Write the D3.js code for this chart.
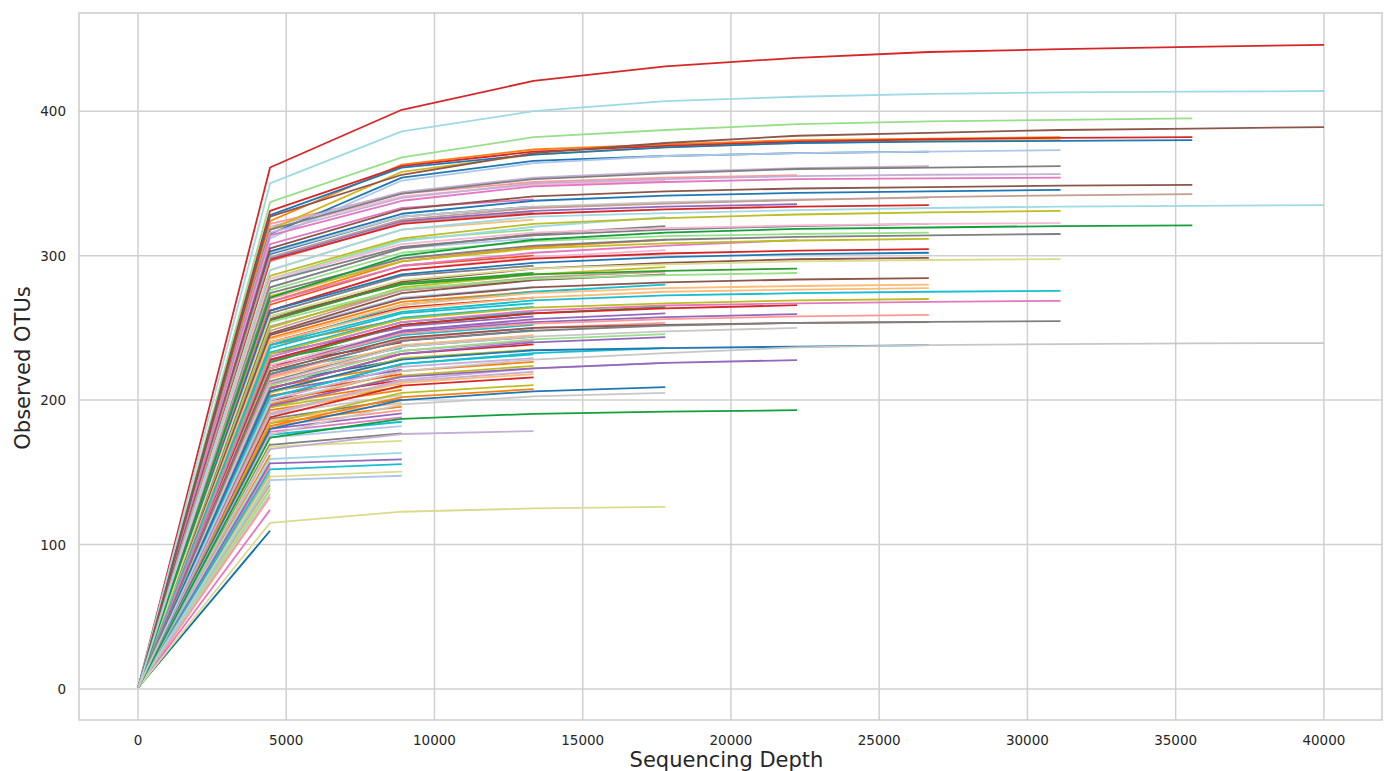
<!DOCTYPE html>
<html>
<head>
<meta charset="utf-8">
<script src="https://cdn.jsdelivr.net/npm/d3@7"></script>
<style>
  html, body { margin: 0; padding: 0; background: #ffffff; }
  svg { display: block; }
</style>
</head>
<body>
<svg id="chart" width="1386" height="771"></svg>
<script>
// Rarefaction depths (reads sampled per step)
const depths = [10, 4454, 8898, 13342, 17786, 22230, 26674, 31118, 35562, 40006];

// Observed OTUs per sample, grouped by the deepest depth each sample reaches
const samplesTo40006 = [
  [1, 361, 401, 421, 431, 437, 441, 443, 444.5, 446],
  [1, 350, 386, 400, 407, 410, 412, 413, 413.5, 414],
  [1, 327, 356, 371, 378, 383, 385, 387, 388, 389],
  [1, 290, 318, 327, 329.5, 331.5, 333, 334, 334.5, 335],
  [1, 198, 220, 228, 232.5, 236.5, 238, 238.8, 239.2, 239.5]
];
const samplesTo35562 = [
  [1, 337, 368, 382, 387, 391, 393, 394, 395],
  [1, 331, 362, 372, 376, 379, 380.5, 381.5, 382],
  [1, 328, 361, 370, 375, 378, 379, 379.5, 380],
  [1, 305, 332, 341, 344.5, 346.5, 347.5, 348.5, 349],
  [1, 299, 325, 333, 336, 338.5, 340.5, 341.8, 342.6],
  [1, 271, 300, 311, 316, 318.5, 319.5, 320.5, 321]
];
const samplesTo31118 = [
  [1, 324, 363, 373.5, 377, 380, 381, 382],
  [1, 318, 358, 370, 375, 378, 379.5, 380],
  [1, 312, 352, 364, 369, 371, 372, 373],
  [1, 318, 343, 353, 357, 360, 361, 362],
  [1, 316, 340, 350, 353, 355, 356, 356.5],
  [1, 314, 338, 348, 351, 353, 353.5, 354],
  [1, 303, 329, 338, 341.5, 343.5, 344.5, 345.5],
  [1, 286, 312, 322, 326, 328.5, 330, 331],
  [1, 284, 308, 316, 319, 321, 322, 322.5],
  [1, 274, 298, 307, 311, 313, 314, 315],
  [1, 258, 283, 291, 294, 296, 297, 297.6],
  [1, 238, 261, 269, 272.5, 274, 275, 275.6],
  [1, 230, 254, 262, 265.5, 267, 268, 268.7],
  [1, 218, 241, 248, 251.5, 253.5, 254.2, 254.7]
];
const samplesTo26674 = [
  [1, 315, 354, 365.6, 369, 371, 372],
  [1, 320, 344, 354, 358, 360.5, 362],
  [1, 302, 327, 334, 337, 339, 340],
  [1, 297, 322, 329, 332, 334, 335],
  [1, 282, 306, 314, 318, 320.5, 322],
  [1, 276, 302, 310, 313.5, 315, 316],
  [1, 272, 296, 305, 308.5, 310.5, 311.6],
  [1, 262, 290, 298, 301.5, 303.5, 304.5],
  [1, 262, 287, 295, 299, 301, 302],
  [1, 256, 282, 291, 295, 297.5, 298.5],
  [1, 245, 270, 278, 281.5, 283.5, 284.4],
  [1, 242, 266, 274, 277.5, 279, 280],
  [1, 240, 263, 271, 275, 276.5, 277.5],
  [1, 232, 256, 264, 267, 269, 270],
  [1, 222, 246, 253, 256, 258, 259],
  [1, 220, 243, 250, 252, 253.5, 254],
  [1, 206, 228, 234.5, 236, 237, 238]
];
const samplesTo22230 = [
  [1, 322, 343, 351, 354, 355.7],
  [1, 298, 324, 331, 334, 335.6],
  [1, 268, 293, 302, 307, 310.7],
  [1, 258, 280, 287, 289.5, 291],
  [1, 254, 277, 284, 286.5, 288],
  [1, 228, 252, 260, 263.5, 265.7],
  [1, 222, 247, 254, 257.5, 259.5],
  [1, 212, 237, 244, 247.5, 250],
  [1, 196, 216, 222, 225.8, 227.7],
  [1, 174, 187, 190.5, 192, 193]
];
const samplesTo17786 = [
  [1, 318, 341, 349, 352],
  [1, 282, 310, 320, 326.7],
  [1, 278, 305, 315, 320.4],
  [1, 268, 296, 306, 311],
  [1, 262, 290, 299, 303.8],
  [1, 250, 278, 287, 292],
  [1, 248, 276, 285, 289],
  [1, 246, 274, 283, 287],
  [1, 238, 266, 275, 280],
  [1, 226, 252, 260, 264.6],
  [1, 222, 248, 256, 260],
  [1, 216, 242, 250, 253.5],
  [1, 210, 234, 242, 245.6],
  [1, 208, 232, 240, 243.6],
  [1, 202, 225, 232.5, 236],
  [1, 190, 214, 222, 225.8],
  [1, 180, 200, 206, 209],
  [1, 176, 197, 202.5, 205],
  [1, 115, 122.7, 125, 126]
];
const samplesTo13342 = [
  [1, 308, 333, 339], [1, 301, 327, 334],
  [1, 296, 323, 330], [1, 290, 318, 325], [1, 284, 311, 318], [1, 278, 305, 312],
  [1, 270, 298, 305], [1, 266, 293, 300], [1, 260, 286, 293], [1, 255, 281, 288],
  [1, 251, 276, 283], [1, 246, 271, 278.4], [1, 243, 268, 275], [1, 240, 264, 271],
  [1, 236, 260, 267], [1, 233, 257, 264.6], [1, 230, 254, 261], [1, 227, 251, 258],
  [1, 224, 248, 255], [1, 222, 245, 252], [1, 218, 241, 248.4], [1, 215, 238, 245],
  [1, 213, 237, 243.8], [1, 211, 234, 241], [1, 208, 232, 238.5], [1, 205, 229, 235],
  [1, 202, 225, 231.6], [1, 200, 223, 229], [1, 197, 220, 226.5], [1, 195, 217, 223.7],
  [1, 191, 213, 219.6], [1, 190, 212, 218], [1, 188, 210, 215.7], [1, 184, 205, 210.4],
  [1, 182, 202, 207.6], [1, 166, 176.5, 178.5]
];
const samplesTo8898 = [
  [1, 238, 256], [1, 232, 250], [1, 228, 245],
  [1, 224, 240], [1, 220, 236], [1, 217, 232], [1, 212, 228], [1, 209, 224],
  [1, 206, 221], [1, 203, 218], [1, 200, 213.8], [1, 197, 211.5], [1, 195, 209.2],
  [1, 193, 207], [1, 190, 203.5], [1, 187, 200.5], [1, 186, 198], [1, 184, 195.4],
  [1, 182, 193], [1, 180, 190.8], [1, 178, 188], [1, 176, 185], [1, 174, 182],
  [1, 169, 177], [1, 167.7, 171.8], [1, 159.2, 163.5], [1, 156.2, 159], [1, 152, 155.6],
  [1, 147, 150.4], [1, 144.6, 147.6]
];
const samplesTo4454 = [
  [1, 170], [1, 166], [1, 162], [1, 160], [1, 157], [1, 154], [1, 150], [1, 148],
  [1, 146], [1, 143.5], [1, 141], [1, 139.5], [1, 137.7], [1, 135], [1, 133], [1, 124],
  [1, 109.5]
];

// Axis ticks
const xTicks = [0, 5000, 10000, 15000, 20000, 25000, 30000, 35000, 40000];
const yTicks = [0, 100, 200, 300, 400];

// Line colours for each group, in sample order
const colorsTo40006 = ["#d62728", "#9edae5", "#8c564b", "#9edae5", "#c7c7c7"];
const colorsTo35562 = ["#98df8a", "#d62728", "#1f77b4", "#8c564b", "#c49c94", "#12a03c"];
const colorsTo31118 = ["#ff7f0e", "#d4b51f", "#aec7e8", "#7f7f7f", "#c5b0d5", "#e377c2", "#1f77b4",
  "#bcbd22", "#f7b6d2", "#7f7f7f", "#dbdb8d", "#17becf", "#e377c2", "#7f7f7f"];
const colorsTo26674 = ["#1f77b4", "#c5b0d5", "#c7c7c7", "#d62728", "#7f7f7f", "#98df8a", "#bcbd22",
  "#d62728", "#1f77b4", "#8c564b", "#8c564b", "#ffbb78", "#ffbb78", "#bcbd22", "#ff9896",
  "#8c564b", "#1f77b4"];
const colorsTo22230 = ["#ff9896", "#9467bd", "#e377c2", "#2ca02c", "#98df8a", "#d62728", "#9467bd",
  "#c7c7c7", "#9467bd", "#12a03c"];
const colorsTo17786 = ["#f7b6d2", "#9edae5", "#7f7f7f", "#ff7f0e", "#f7b6d2", "#bcbd22", "#c49c94",
  "#8c564b", "#17becf", "#2ca02c", "#9467bd", "#ff9896", "#98df8a", "#9467bd", "#17becf",
  "#c5b0d5", "#1f77b4", "#c7c7c7", "#dbdb8d"];
const colorsTo13342 = ["#e377c2", "#1f77b4",
  "#c49c94", "#ffbb78", "#98df8a", "#aec7e8", "#ff9896", "#ff4f0f", "#7f7f7f",
  "#2ca02c", "#c49c94", "#aec7e8", "#ff7f0e", "#d62728", "#17becf", "#17becf", "#17becf",
  "#9467bd", "#f7b6d2", "#17becf", "#1f77b4", "#ffbb78", "#7f7f7f", "#e377c2", "#d62728",
  "#bcbd22", "#17becf", "#c5b0d5", "#ff7f0e", "#bcbd22", "#c5b0d5", "#ffbb78", "#d62728",
  "#bcbd22", "#ff7f0e", "#c5b0d5"];
const colorsTo8898 = ["#ff7f0e", "#9467bd", "#2ca02c",
  "#d62728", "#17becf", "#ff9896", "#1f77b4", "#ff7f0e", "#9467bd", "#ff4f0f",
  "#d62728", "#ff7f0e", "#bcbd22", "#ff7f0e", "#c7c7c7", "#7f7f7f", "#ffbb78", "#ff7f0e",
  "#ff9896", "#9467bd", "#e377c2", "#17becf", "#aec7e8", "#7f7f7f", "#dbdb8d", "#9edae5",
  "#9467bd", "#17becf", "#dbdb8d", "#aec7e8"];
const colorsTo4454 = ["#bcbd22", "#c49c94", "#ff7f0e", "#98df8a", "#e377c2", "#ff9896", "#c5b0d5",
  "#bcbd22", "#ffbb78", "#98df8a", "#c49c94", "#dbdb8d", "#98df8a", "#c7c7c7", "#ff9896",
  "#e377c2", "#0f6fae"];

// Plot frame in pixels
const frame = { left: 79, right: 1382, top: 13, bottom: 720 };

const svg = d3.select("#chart");

const x = d3.scaleLinear().domain([-1990, 41960]).range([frame.left, frame.right]);
const y = d3.scaleLinear().domain([-21.5, 468]).range([frame.bottom, frame.top]);

// Grid
const grid = svg.append("g").attr("stroke", "#d0d0d0").attr("stroke-width", 1.5);
grid.selectAll("line.vx").data(xTicks).join("line")
  .attr("x1", d => x(d)).attr("x2", d => x(d))
  .attr("y1", frame.top).attr("y2", frame.bottom);
grid.selectAll("line.hy").data(yTicks).join("line")
  .attr("x1", frame.left).attr("x2", frame.right)
  .attr("y1", d => y(d)).attr("y2", d => y(d));

// Curves
const groups = [
  [samplesTo4454, colorsTo4454],
  [samplesTo8898, colorsTo8898],
  [samplesTo13342, colorsTo13342],
  [samplesTo17786, colorsTo17786],
  [samplesTo22230, colorsTo22230],
  [samplesTo26674, colorsTo26674],
  [samplesTo31118, colorsTo31118],
  [samplesTo35562, colorsTo35562],
  [samplesTo40006, colorsTo40006]
];
const series = [];
groups.forEach(([rows, cols]) => {
  rows.forEach((vals, i) => series.push({ color: cols[i % cols.length], values: vals }));
});

const line = d3.line()
  .x((d, i) => x(depths[i]))
  .y(d => y(d));

svg.append("g")
  .attr("fill", "none")
  .attr("stroke-width", 1.8)
  .attr("stroke-linejoin", "round")
  .selectAll("path").data(series).join("path")
  .attr("stroke", d => d.color)
  .attr("d", d => line(d.values));

// Frame
svg.append("rect")
  .attr("x", frame.left).attr("y", frame.top)
  .attr("width", frame.right - frame.left).attr("height", frame.bottom - frame.top)
  .attr("fill", "none").attr("stroke", "#cccccc").attr("stroke-width", 1.5);

// Tick labels
const font = "DejaVu Sans, sans-serif";
svg.append("g").selectAll("text").data(xTicks).join("text")
  .attr("x", d => x(d)).attr("y", 745)
  .attr("text-anchor", "middle")
  .attr("font-family", font).attr("font-size", 13.5).attr("fill", "#262626")
  .text(d => d);
svg.append("g").selectAll("text").data(yTicks).join("text")
  .attr("x", 66).attr("y", d => y(d) + 5)
  .attr("text-anchor", "end")
  .attr("font-family", font).attr("font-size", 13.5).attr("fill", "#262626")
  .text(d => d);

// Axis titles
svg.append("text")
  .attr("x", (frame.left + frame.right) / 2 - 4).attr("y", 767)
  .attr("text-anchor", "middle")
  .attr("font-family", font).attr("font-size", 21).attr("fill", "#262626")
  .text("Sequencing Depth");
svg.append("text")
  .attr("transform", "translate(30,368) rotate(-90)")
  .attr("text-anchor", "middle")
  .attr("font-family", font).attr("font-size", 21).attr("fill", "#262626")
  .text("Observed OTUs");
</script>
</body>
</html>
